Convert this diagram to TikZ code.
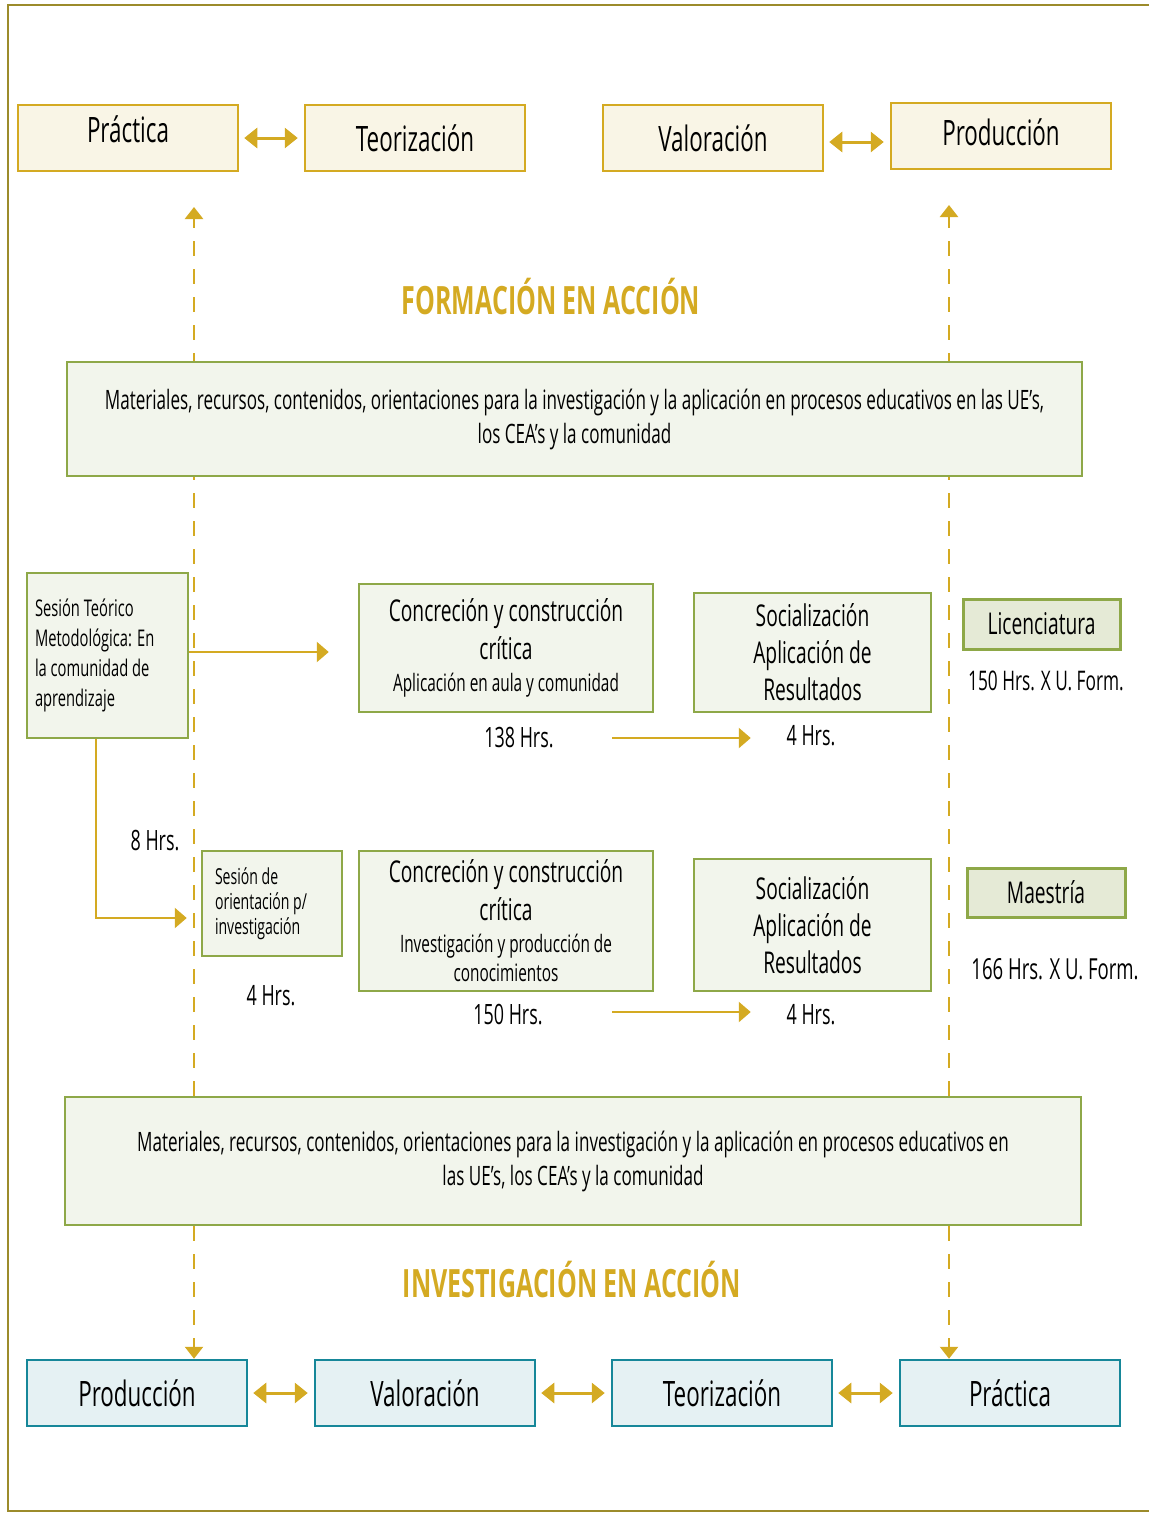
\documentclass[tikz,border=0pt]{standalone}
\usepackage{fontspec}
\setmainfont{Open Sans}[FakeStretch=0.64]
\usetikzlibrary{arrows.meta, backgrounds}

\definecolor{oro}{HTML}{D4AA22}
\definecolor{crema}{HTML}{F9F5E6}
\definecolor{verde}{HTML}{8EA848}
\definecolor{verdeclaro}{HTML}{F2F5EC}
\definecolor{verdemedio}{HTML}{E5EAD6}
\definecolor{azulclaro}{HTML}{E5F1F3}
\definecolor{turquesa}{HTML}{168799}
\definecolor{marco}{HTML}{9C8B2B}

\newcommand{\fs}[2]{\fontsize{#1}{#2}\selectfont}

\tikzset{
    cajaoro/.style={draw=oro, line width=2.5pt, fill=crema, minimum width=220pt, minimum height=66pt, font=\fs{35}{40}},
    cajaazul/.style={draw=turquesa, line width=2.5pt, fill=azulclaro, minimum width=220pt, minimum height=66pt, font=\fs{35}{40}},
    cajaverde/.style={draw=verde, line width=2.5pt, fill=verdeclaro, align=center},
    grado/.style={draw=verde, line width=3pt, fill=verdemedio, font=\fs{30}{36}},
    horas/.style={font=\fs{28}{32}},
    titulo/.style={text=oro, font=\bfseries\fs{39}{44}},
    doble/.style={oro, line width=3pt, {Triangle[length=13pt,width=20pt]}-{Triangle[length=13pt,width=20pt]}, shorten <=5pt, shorten >=6pt},
    flecha/.style={oro, line width=2.5pt, -{Triangle[length=12pt,width=20pt]}},
    guion/.style={oro, line width=2.5pt, dash pattern=on 15pt off 13pt, -{Triangle[length=12pt,width=18pt]}}
}

\begin{document}
\begin{tikzpicture}[x=1pt, y=-1pt] % un punto = un pixel del original

        \useasboundingbox (0,0) rectangle (1149,1513);

        % ==========================================
        % MARCO EXTERIOR
        % ==========================================
        
        \draw[marco, line width=2.5pt] (1149,5) -- (8,5) -- (8,1511) -- (1149,1511);


        % ==========================================
        % FORMACIÓN EN ACCIÓN (fila superior)
        % ==========================================
        
        \node[cajaoro, text depth=17pt] (pracA) at (128,138) {Práctica};
        \node[cajaoro] (teorA) at (415,138) {Teorización};
        \node[cajaoro] (valA) at (713,138) {Valoración};
        \node[cajaoro, text depth=8pt] (prodA) at (1001,136) {Producción};

        \draw[doble] (pracA) -- (teorA);
        \draw[doble] ([yshift=-4pt]valA.east) -- ([yshift=-4pt]valA.east -| prodA.west);

        \node[titulo] (tituloA) at (551,297) {FORMACIÓN EN ACCIÓN};

        % Recuadro de materiales superior
        \node[cajaverde, minimum width=1015pt, minimum height=114pt, font=\fs{26.7}{34}] (matA) at (574.5,419)
            {Materiales, recursos, contenidos, orientaciones para la investigación y la aplicación en procesos educativos en las UE’s,\\los CEA’s y la comunidad};


        % ==========================================
        % SESIONES Y HORAS
        % ==========================================
        
        % Sesión teórico metodológica
        \node[cajaverde, align=flush left, text width=145pt, inner xsep=8pt, minimum height=165pt, font=\fs{23}{30}] (sesT) at (107.5,655.5)
            {Sesión Teórico\\Metodológica: En\\la comunidad de\\aprendizaje};
        \node[horas] (hrsSesT) at (155,841) {8 Hrs.};

        % Licenciatura
        \node[cajaverde, minimum width=294pt, minimum height=128pt, font=\fs{30}{38}] (concA) at (506,648)
            {Concreción y construcción\\crítica\\[-6pt]{\fs{24}{30}Aplicación en aula y comunidad}};
        \node[cajaverde, minimum width=237pt, minimum height=119pt, font=\fs{30}{37}] (socA) at (812.5,652.5)
            {Socialización\\Aplicación de\\Resultados};
        \node[grado, minimum width=157pt, minimum height=50pt] (lic) at (1041.5,624) {Licenciatura};
        \node[horas] (hrsConcA) at (519,738) {138 Hrs.};
        \node[horas] (hrsSocA) at (811,736) {4 Hrs.};
        \node[horas, font=\fs{27}{32}] (hrsLic) at (1046,681) {150 Hrs. X U. Form.};

        % Maestría
        \node[cajaverde, align=flush left, text width=114pt, inner xsep=13pt, minimum height=105pt, font=\fs{22}{25}] (sesO) at (272,903.5)
            {Sesión de\\orientación p/\\investigación};
        \node[cajaverde, minimum width=294pt, minimum height=140pt, font=\fs{30}{38}] (concB) at (506,921)
            {Concreción y construcción\\crítica\\[-6pt]{\fs{24}{29}Investigación y producción de}\\[-9pt]{\fs{24}{29}conocimientos}};
        \node[cajaverde, minimum width=237pt, minimum height=132pt, font=\fs{30}{37}] (socB) at (812.5,925)
            {Socialización\\Aplicación de\\Resultados};
        \node[grado, minimum width=158pt, minimum height=49pt] (mae) at (1046,892.5) {Maestría};
        \node[horas] (hrsSesO) at (271,996) {4 Hrs.};
        \node[horas] (hrsConcB) at (508,1015) {150 Hrs.};
        \node[horas] (hrsSocB) at (811,1015) {4 Hrs.};
        \node[horas, font=\fs{29}{32}] (hrsMae) at (1055,969) {166 Hrs. X U. Form.};

        % Flechas entre sesiones
        \draw[flecha, shorten >=29pt] ([yshift=3.5pt]sesT.east) -- ([yshift=3.5pt]sesT.east -| concA.west);
        \draw[flecha, shorten >=14pt] ([xshift=-11.5pt]sesT.south) |- ([yshift=-14.5pt]sesO.west);
        \draw[flecha] ([xshift=-42pt]concA.east |- hrsConcA) -- ([xshift=58pt]socA.west |- hrsConcA);
        \draw[flecha] ([xshift=-42pt,yshift=3pt]concB.east |- hrsConcB) -- ([xshift=58pt,yshift=3pt]socB.west |- hrsConcB);

        % Recuadro de materiales inferior
        \node[cajaverde, minimum width=1016pt, minimum height=128pt, font=\fs{26.7}{34}] (matB) at (573,1161)
            {Materiales, recursos, contenidos, orientaciones para la investigación y la aplicación en procesos educativos en\\las UE’s, los CEA’s y la comunidad};


        % ==========================================
        % INVESTIGACIÓN EN ACCIÓN (fila inferior)
        % ==========================================
        
        \node[titulo] (tituloB) at (572,1280) {INVESTIGACIÓN EN ACCIÓN};

        \node[cajaazul] (prodB) at (137,1393) {Producción};
        \node[cajaazul] (valB) at (425,1393) {Valoración};
        \node[cajaazul] (teorB) at (722,1393) {Teorización};
        \node[cajaazul] (pracB) at (1010,1393) {Práctica};

        \draw[doble] (prodB) -- (valB);
        \draw[doble] (valB) -- (teorB);
        \draw[doble] (teorB) -- (pracB);


        % ==========================================
        % GUÍAS PUNTEADAS (detrás de los recuadros)
        % ==========================================
        
        \coordinate (guiaIzq) at (194,207);
        \coordinate (guiaDer) at (949,205);
        \begin{scope}[on background layer]
            \draw[guion] (matB.north -| guiaIzq) -- (guiaIzq);
            \draw[guion] (matB.north -| guiaDer) -- (guiaDer);
            \draw[guion] (matB.south -| guiaIzq) -- (prodB.north -| guiaIzq);
            \draw[guion] (matB.south -| guiaDer) -- (pracB.north -| guiaDer);
        \end{scope}

    \end{tikzpicture}
\end{document}
